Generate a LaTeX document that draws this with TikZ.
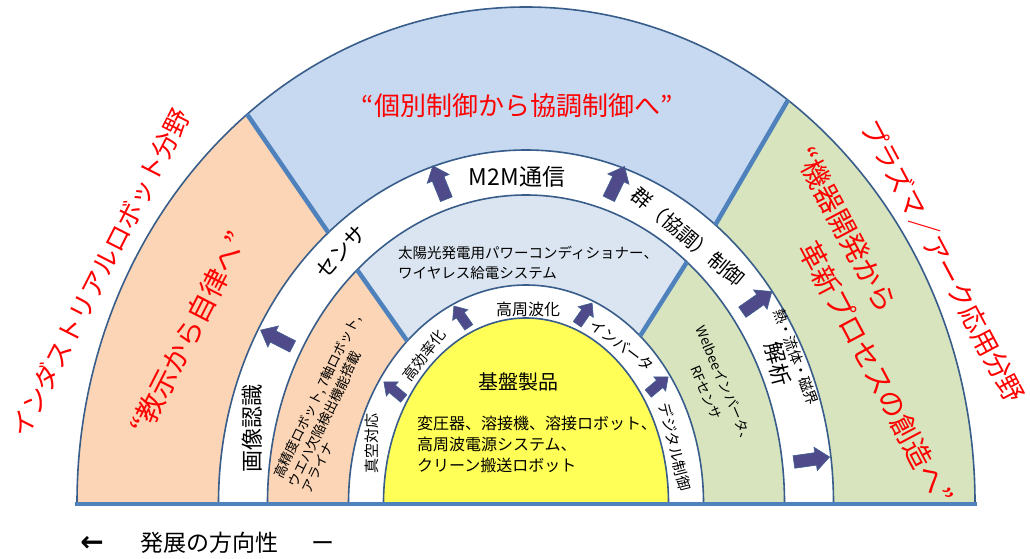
\documentclass[tikz,border=0pt]{standalone}
\usepackage{fontspec}
\newfontfamily\jp{Noto Sans CJK JP}
\newfontfamily\dv{DejaVu Sans}
\usetikzlibrary{shapes.arrows}
\definecolor{cOr}{HTML}{FBD5B5}
\definecolor{cBl}{HTML}{C6D9F0}
\definecolor{cBl2}{HTML}{DBE5F1}
\definecolor{cGr}{HTML}{D7E4BD}
\definecolor{cYe}{HTML}{FFFF57}
\definecolor{cLine}{HTML}{385D8A}
\definecolor{cDiv}{HTML}{4F81BD}
\definecolor{cArr}{HTML}{4F4B8B}
\definecolor{cArrL}{HTML}{3F5F8F}
\definecolor{cRed}{HTML}{FF0000}
\newcommand\fsz[1]{\fontsize{#1}{#1}\selectfont}
\tikzset{
  txt/.style={font=\jp, inner sep=0pt, text=black},
  redtxt/.style={inner sep=0pt, text=cRed},
  outl/.style={draw=cLine, line width=1.6pt},
  divl/.style={draw=cDiv, line width=4.5pt},
  bigarrow/.style={single arrow, draw=cArrL, fill=cArr, line width=0.6pt,
    inner xsep=0pt, inner ysep=6pt, minimum width=0pt, minimum height=36pt,
    single arrow head extend=5.5pt, single arrow tip angle=80},
  smallarrow/.style={bigarrow, inner ysep=4.5pt, minimum height=26pt,
    single arrow head extend=4.5pt}
}
\begin{document}
\begin{tikzpicture}[x=1pt,y=1pt]
\useasboundingbox (0,0) rectangle (1030,558);
% key points on the ellipses (centre 526,55)
\coordinate (c) at (526,55);
\coordinate (d1a) at ({526+449*cos(128.4)},{55+496*sin(128.4)});
\coordinate (d1b) at ({526+307.5*cos(130)},{55+353*sin(130)});
\coordinate (d2a) at ({526+449*cos(54.3)},{55+496*sin(54.3)});
\coordinate (d2b) at ({526+307.5*cos(52)},{55+353*sin(52)});
\coordinate (d3a) at ({526+258.5*cos(130.8)},{55+308*sin(130.8)});
\coordinate (d3b) at ({526+177.5*cos(132)},{55+218*sin(132)});
\coordinate (d4a) at ({526+258.5*cos(51.5)},{55+308*sin(51.5)});
\coordinate (d4b) at ({526+177.5*cos(50)},{55+218*sin(50)});
% outer ring
\fill[cOr] (77,55) arc[start angle=180,end angle=128.4,x radius=449,y radius=496]
  -- (d1b) arc[start angle=130,end angle=180,x radius=307.5,y radius=353] -- cycle;
\fill[cBl] (d1a) arc[start angle=128.4,end angle=54.3,x radius=449,y radius=496]
  -- (d2b) arc[start angle=52,end angle=130,x radius=307.5,y radius=353] -- cycle;
\fill[cGr] (d2a) arc[start angle=54.3,end angle=0,x radius=449,y radius=496]
  -- (833.5,55) arc[start angle=0,end angle=52,x radius=307.5,y radius=353] -- cycle;
% white band 1
\fill[white] (218.5,55) arc[start angle=180,end angle=0,x radius=307.5,y radius=353]
  -- (784.5,55) arc[start angle=0,end angle=180,x radius=258.5,y radius=308] -- cycle;
% inner ring
\fill[cOr] (267.5,55) arc[start angle=180,end angle=130.8,x radius=258.5,y radius=308]
  -- (d3b) arc[start angle=132,end angle=180,x radius=177.5,y radius=218] -- cycle;
\fill[cBl2] (d3a) arc[start angle=130.8,end angle=51.5,x radius=258.5,y radius=308]
  -- (d4b) arc[start angle=50,end angle=132,x radius=177.5,y radius=218] -- cycle;
\fill[cGr] (d4a) arc[start angle=51.5,end angle=0,x radius=258.5,y radius=308]
  -- (703.5,55) arc[start angle=0,end angle=50,x radius=177.5,y radius=218] -- cycle;
% white band 2
\fill[white] (348.5,55) arc[start angle=180,end angle=0,x radius=177.5,y radius=218]
  -- (668.5,55) arc[start angle=0,end angle=180,x radius=142.5,y radius=185] -- cycle;
% yellow core
\fill[cYe] (383.5,55) arc[start angle=180,end angle=0,x radius=142.5,y radius=185] -- cycle;
% outlines
\draw[outl] (77,55) arc[start angle=180,end angle=0,x radius=449,y radius=496];
\draw[outl] (218.5,55) arc[start angle=180,end angle=0,x radius=307.5,y radius=353];
\draw[outl] (267.5,55) arc[start angle=180,end angle=0,x radius=258.5,y radius=308];
\draw[outl] (348.5,55) arc[start angle=180,end angle=0,x radius=177.5,y radius=218];
\draw[outl] (383.5,55) arc[start angle=180,end angle=0,x radius=142.5,y radius=185];
% dividers
\draw[divl] (d1a) -- (d1b);
\draw[divl] (d2a) -- (d2b);
\draw[divl] (d3a) -- (d3b);
\draw[divl] (d4a) -- (d4b);
\coordinate (bl) at (75,54);
\coordinate (br) at (977,54);
\draw[divl] (bl) -- (br);
% red texts
\node[redtxt, font=\jp\fsz{26}] (title) at (517,452) {“個別制御から協調制御へ”};
\node[redtxt, font=\jp\fsz{26}, rotate=63] (leftfield) at (100,285) {インダストリアルロボット分野};
\node[redtxt, font=\jp\fsz{26.5}, rotate=-62] (rightfield) at (943,297) {プラズマ／アーク応用分野};
\node[redtxt, font=\jp\fsz{28}, rotate=63] (lq) at (189,225) {“教示から自律へ”};
\node[redtxt, font=\jp\fsz{28}, rotate=-62] (rq1) at (846,328) {“機器開発から};
\node[redtxt, font=\jp\fsz{28}, rotate=-62] (rq2) at (876,185) {革新プロセスの創造へ”};
% outer white band
\node[txt, font=\jp\fsz{21}, rotate=47] (sensa) at (341,306) {センサ};
\node[txt, font=\jp\fsz{22}, rotate=90] (gazo) at (252,130) {画像認識};
\node[txt, font=\jp\fsz{23}] (m2m) at (517,381) {M2M通信};
\node[txt, font=\jp\fsz{20}, rotate=-40] (gun) at (688,321) {群（協調）制御};
\node[txt, font=\jp\fsz{14.5}, rotate=-70] (netsu) at (796,201) {熱・流体・磁界};
\node[txt, font=\jp\fsz{22}, rotate=-75] (kaiseki) at (778,194) {解析};
\node[bigarrow, rotate=153] (a1) at (280,218) {};
\node[bigarrow, rotate=112] (a2) at (441,372) {};
\node[bigarrow, rotate=64] (a3) at (615,372) {};
\node[bigarrow, rotate=35] (a4) at (754,254) {};
\node[bigarrow, rotate=8] (a5) at (808,98) {};
% inner ring
\node[txt, font=\jp\fsz{14.5}, anchor=west] (taiyo1) at (398,305) {太陽光発電用パワーコンディショナー、};
\node[txt, font=\jp\fsz{14.5}, anchor=west] (taiyo2) at (398,285) {ワイヤレス給電システム};
\node[txt, font=\jp\fsz{13.5}, rotate=64, anchor=west] (rob1) at (278,80) {高精度ロボット, 7軸ロボット,};
\node[txt, font=\jp\fsz{13.5}, rotate=64, anchor=west] (rob2) at (292,72) {ウエハ欠陥検出機能搭載};
\node[txt, font=\jp\fsz{13.5}, rotate=64, anchor=west] (rob3) at (306,66) {アライナ};
\node[txt, font=\jp\fsz{13.5}, rotate=-67] (wel1) at (725,173) {Welbeeインバータ、};
\node[txt, font=\jp\fsz{13.5}, rotate=-67] (wel2) at (706,165) {RFセンサ};
% inner white band
\node[txt, font=\jp\fsz{15}, rotate=90] (shinku) at (372,115) {真空対応};
\node[txt, font=\jp\fsz{15}, rotate=52] (koritsu) at (424,203) {高効率化};
\node[txt, font=\jp\fsz{16}] (koshu) at (528,249) {高周波化};
\node[txt, font=\jp\fsz{15}, rotate=-37] (inv) at (622,213) {インバータ};
\node[txt, font=\jp\fsz{15}, rotate=-76] (dig) at (675,111) {デジタル制御};
\node[smallarrow, rotate=140] (b1) at (396,166) {};
\node[smallarrow, rotate=125] (b2) at (463,239) {};
\node[smallarrow, rotate=55] (b3) at (583,242) {};
\node[smallarrow, rotate=40] (b4) at (656,171) {};
% core
\node[txt, font=\jp\fsz{20}] (kiban) at (518,176) {基盤製品};
\node[txt, font=\jp\fsz{16}, anchor=west] (y1) at (417,135) {変圧器、溶接機、溶接ロボット、};
\node[txt, font=\jp\fsz{16}, anchor=west] (y2) at (417,114) {高周波電源システム、};
\node[txt, font=\jp\fsz{16}, anchor=west] (y3) at (417,93) {クリーン搬送ロボット};
% bottom
\node[txt, font=\dv\bfseries\fsz{28}] (larr) at (92,14) {←};
\node[txt, font=\jp\fsz{23}] (hatten) at (209,15) {発展の方向性};
\node[txt, font=\jp\fsz{23}] (dash) at (323,11) {ー};
\end{tikzpicture}
\end{document}
